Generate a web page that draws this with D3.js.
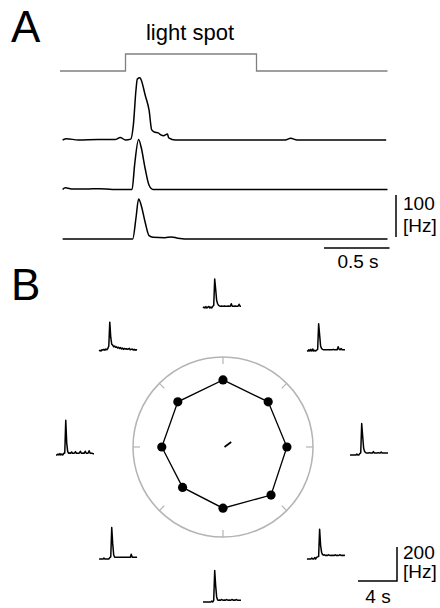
<!DOCTYPE html>
<html>
<head>
<meta charset="utf-8">
<script src="https://cdn.jsdelivr.net/npm/d3@7"></script>
<style>
  html, body { margin: 0; padding: 0; background: #fff; }
  text { font-family: "Liberation Sans", Arial, sans-serif; fill: #000; }
</style>
</head>
<body>
<svg id="fig" width="440" height="608"></svg>
<script>
// ---- panel A: stimulus and three smoothed firing-rate traces ----
const stimOn = 0.5, stimOff = 1.5, trialEnd = 2.5;

// [time (s), rate (Hz)]
const trace1 = [[0.02,0],[0.05,3],[0.14,0],[0.29,1],[0.42,1],[0.46,6],[0.5,0],[0.54,2],
  [0.56,36],[0.58,119],[0.59,145],[0.61,148],[0.62,143],[0.65,107],[0.68,71],[0.7,24],
  [0.72,19],[0.75,17],[0.77,12],[0.79,10],[0.82,14],[0.83,5],[0.88,0],[1.72,0],[1.76,4],
  [1.81,0],[2.49,0]];
const trace2 = [[0.02,0],[0.04,4],[0.1,1],[0.2,1],[0.3,2],[0.4,0],[0.55,0],[0.57,60],
  [0.6,119],[0.62,100],[0.65,50],[0.68,10],[0.71,0],[2.5,0]];
const trace3 = [[0.02,0],[0.5,0],[0.555,0],[0.58,50],[0.6,95],[0.62,80],[0.65,40],
  [0.68,8],[0.71,4],[0.8,3],[0.85,5],[0.9,2],[1.0,0],[2.5,0]];
const traces = [trace1, trace2, trace3];

// ---- panel B: direction tuning ----
const directions = [0, 45, 90, 135, 180, 225, 270, 315]; // clockwise from up
const tuning = [149, 142, 142, 151, 136, 127, 136, 142];  // Hz
const tuningMax = 200;

// PSTHs, 0.1 s bins, one per direction (same order)
const psths = [
  [0,6,0,8,0,5,9,0,6,0,10,15,170,110,45,25,15,12,10,12,10,10,12,10,10,10,12,10,10,25,10,10,10,12,10,10,10,22,10,10],
  [0,0,8,0,10,0,12,0,5,0,6,10,160,95,30,15,10,8,8,8,8,8,8,8,8,8,8,10,8,8,8,8,25,10,8,15,8,8,8,8],
  [0,0,0,0,0,0,0,5,0,0,8,12,185,110,40,20,14,12,12,12,14,12,12,12,20,12,12,12,12,14,12,12,18,12,12,12,12,12,12,12],
  [0,0,0,0,0,6,0,0,8,0,10,12,15,175,80,40,25,22,25,20,22,20,25,22,20,22,20,22,20,25,20,22,20,22,25,20,22,20,22,20],
  [0,0,0,0,0,0,0,0,0,5,0,10,185,95,30,12,10,12,10,15,12,10,12,10,15,12,10,12,10,12,15,10,12,10,15,12,10,10,10,10],
  [0,0,0,0,0,5,0,0,0,0,0,8,12,185,90,25,10,10,10,10,10,10,10,10,10,10,10,10,10,10,10,10,10,28,10,10,10,10,10,10],
  [0,0,5,0,8,0,6,0,10,12,205,70,20,10,12,10,18,10,10,12,20,10,10,10,12,22,10,10,12,10,22,10,10,12,25,10,10,10,8,8],
  [0,5,0,8,6,10,5,12,8,15,30,170,80,40,35,25,30,22,25,18,22,15,20,12,18,10,15,12,14,10,12,16,8,10,12,6,10,5,8,6]
];
const binWidth = 0.1;

const svg = d3.select('#fig');

// panel letters
svg.append('text').attr('x', 11).attr('y', 42).attr('font-size', 44).text('A');
svg.append('text').attr('x', 11).attr('y', 300).attr('font-size', 44).text('B');

// ---------- A ----------
const xA = d3.scaleLinear().domain([0, trialEnd]).range([60, 387.5]);
const yA = d3.scaleLinear().domain([0, 100]).range([0, -42]);
const baselines = [140, 189.5, 239];

const stim = [[0,0],[stimOn,0],[stimOn,1],[stimOff,1],[stimOff,0],[trialEnd,0]];
svg.append('path')
  .datum(stim)
  .attr('fill', 'none')
  .attr('stroke', '#808080')
  .attr('stroke-width', 1.3)
  .attr('d', d3.line().x(d => xA(d[0])).y(d => 71 - d[1] * 17));

svg.append('text')
  .attr('x', xA((stimOn + stimOff) / 2) - 1).attr('y', 40)
  .attr('text-anchor', 'middle').attr('font-size', 22)
  .text('light spot');

const lineA = d3.line().x(d => xA(d[0])).y(d => yA(d[1])).curve(d3.curveMonotoneX);

svg.selectAll('.traceA')
  .data(traces)
  .join('path')
    .attr('class', 'traceA')
    .attr('transform', (d, i) => `translate(0,${baselines[i]})`)
    .attr('fill', 'none')
    .attr('stroke', '#000')
    .attr('stroke-width', 1.5)
    .attr('stroke-linejoin', 'round')
    .attr('d', lineA);

// scale bars A
const barBottom = baselines[2] - 2;
svg.append('line')
  .attr('x1', 396).attr('x2', 396)
  .attr('y1', barBottom).attr('y2', barBottom + yA(100))
  .attr('stroke', '#000').attr('stroke-width', 1.5);
svg.append('text').attr('x', 403).attr('y', 210).attr('font-size', 19).text('100');
svg.append('text').attr('x', 403).attr('y', 232).attr('font-size', 19).text('[Hz]');

svg.append('line')
  .attr('x1', xA(trialEnd) + 2 - (xA(0.5) - xA(0))).attr('x2', xA(trialEnd) + 2)
  .attr('y1', 248).attr('y2', 248)
  .attr('stroke', '#000').attr('stroke-width', 1.5);
svg.append('text').attr('x', 358).attr('y', 268).attr('text-anchor', 'middle')
  .attr('font-size', 19).text('0.5 s');

// ---------- B ----------
const cx = 223, cy = 447;
const rScale = d3.scaleLinear().domain([0, tuningMax]).range([0, 90]);
const rad = a => a * Math.PI / 180;

const polar = svg.append('g').attr('transform', `translate(${cx},${cy})`);

polar.append('circle')
  .attr('r', rScale(tuningMax))
  .attr('fill', 'none')
  .attr('stroke', '#b4b4b4')
  .attr('stroke-width', 1.5);

polar.selectAll('.tick')
  .data(directions)
  .join('line')
    .attr('class', 'tick')
    .attr('x1', d => Math.sin(rad(d)) * rScale(tuningMax))
    .attr('y1', d => -Math.cos(rad(d)) * rScale(tuningMax))
    .attr('x2', d => Math.sin(rad(d)) * (rScale(tuningMax) - 7))
    .attr('y2', d => -Math.cos(rad(d)) * (rScale(tuningMax) - 7))
    .attr('stroke', '#b4b4b4')
    .attr('stroke-width', 1.2);

const pts = directions.map((d, i) => ({ a: rad(d), r: rScale(tuning[i]) }));

polar.append('path')
  .datum(pts)
  .attr('fill', 'none')
  .attr('stroke', '#000')
  .attr('stroke-width', 1.3)
  .attr('d', d3.lineRadial().angle(d => d.a).radius(d => d.r).curve(d3.curveLinearClosed));

polar.selectAll('.dot')
  .data(pts)
  .join('circle')
    .attr('class', 'dot')
    .attr('cx', d => Math.sin(d.a) * d.r)
    .attr('cy', d => -Math.cos(d.a) * d.r)
    .attr('r', 4.6)
    .attr('fill', '#000');

// resultant vector
const vx = d3.sum(pts, d => Math.sin(d.a) * d.r);
const vy = d3.sum(pts, d => -Math.cos(d.a) * d.r);
polar.append('line')
  .attr('x1', 1.5).attr('y1', 0)
  .attr('x2', 1.5 + vx * 0.65).attr('y2', vy * 0.65)
  .attr('stroke', '#000').attr('stroke-width', 1.7);

// PSTHs around the circle
const xB = d3.scaleLinear().domain([0, 4]).range([0, 39]);
const yB = d3.scaleLinear().domain([0, 200]).range([0, -34]);
const psthR = 147, pcx = 223, pcy = 440;

const lineB = d3.line().x((d, i) => xB(i * binWidth)).y(d => yB(d));

svg.selectAll('.psth')
  .data(psths)
  .join('path')
    .attr('class', 'psth')
    .attr('transform', (d, i) => {
      const a = rad(directions[i]);
      const px = pcx + Math.sin(a) * psthR - 20;
      const py = pcy - Math.cos(a) * psthR + 15;
      return `translate(${px},${py})`;
    })
    .attr('fill', 'none')
    .attr('stroke', '#000')
    .attr('stroke-width', 1.5)
    .attr('stroke-linejoin', 'round')
    .attr('d', lineB);

// scale bars B
svg.append('path')
  .attr('d', `M${397 - xB(4)},581H397V${581 + yB(200)}`)
  .attr('fill', 'none').attr('stroke', '#000').attr('stroke-width', 1.5);
svg.append('text').attr('x', 403).attr('y', 559).attr('font-size', 19).text('200');
svg.append('text').attr('x', 403).attr('y', 578).attr('font-size', 19).text('[Hz]');
svg.append('text').attr('x', 378).attr('y', 603).attr('text-anchor', 'middle')
  .attr('font-size', 19).text('4 s');
</script>
</body>
</html>
